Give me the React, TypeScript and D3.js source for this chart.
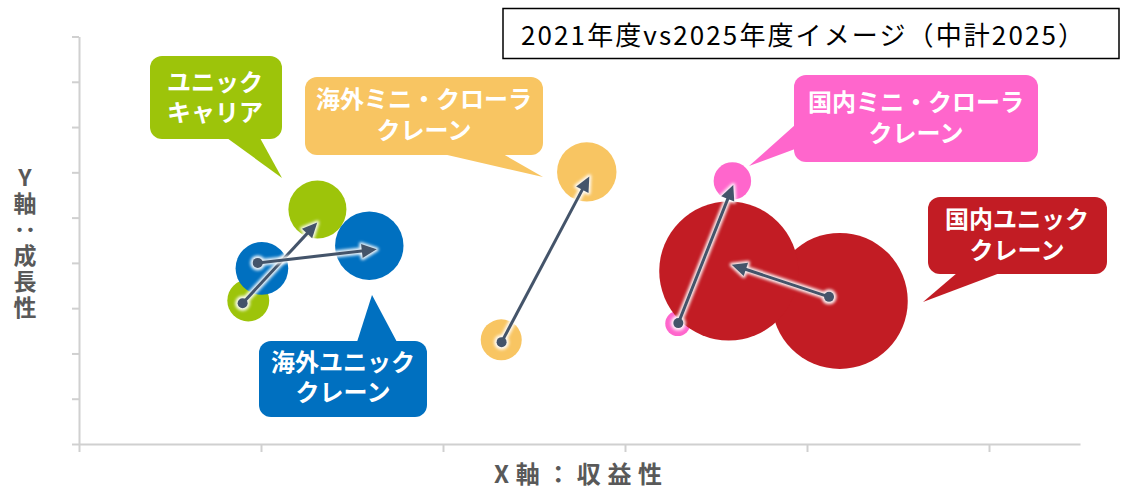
import { useEffect, useRef } from 'react';
import * as d3 from 'd3';

// segments, drawn back to front
const segments = ['ユニックキャリア', '海外ユニッククレーン', '海外ミニ・クローラクレーン', '国内ミニ・クローラクレーン', '国内ユニッククレーン'];
const colors = ['#9DC40A', '#0070C0', '#F8C562', '#FF66CC', '#C21C24'];

// 2021 actual (x: profitability, y: growth, size: scale)
const x2021 = [0.93, 1.005, 2.32, 3.29, 4.18];
const y2021 = [3.17, 3.88, 2.3, 2.66, 3.16];
const size2021 = [9.5, 15, 9.1, 3.4, 100];

// 2025 plan
const x2025 = [1.31, 1.595, 2.79, 3.59, 3.57];
const y2025 = [5.18, 4.38, 6.01, 5.81, 3.82];
const size2025 = [18.2, 25.3, 19.1, 7.6, 104.5];

// arrows as drawn
const arrowFromX = [0.899, 0.982, 2.322, 3.293, 4.121];
const arrowFromY = [3.11, 4.0, 2.25, 2.67, 3.25];
const arrowToX = [1.309, 1.636, 2.804, 3.595, 3.586];
const arrowToY = [4.89, 4.3, 5.91, 5.72, 3.96];

const labelLines = [
  ['ユニック', 'キャリア'],
  ['海外ユニック', 'クレーン'],
  ['海外ミニ・クローラ', 'クレーン'],
  ['国内ミニ・クローラ', 'クレーン'],
  ['国内ユニック', 'クレーン'],
];

const xTicks = [0, 1, 2, 3, 4, 5];
const yTicks = [0, 1, 2, 3, 4, 5, 6, 7, 8, 9];

const title = '2021年度vs2025年度イメージ（中計2025）';
const xTitle = 'X軸：収益性';
const yTitle = 'Y軸：成長性';

// callout layout (pixels)
const callouts = [
  { x: 150, y: 56, w: 132, h: 83, tail: [[227, 138], [260, 138], [282, 178]], cx: 215, ly: [82, 112] },
  { x: 259, y: 341, w: 168, h: 76, tail: [[357, 342], [397, 342], [372, 295]], cx: 343, ly: [362, 392] },
  { x: 305, y: 77, w: 238, h: 78, tail: [[443, 154], [503, 154], [543, 177]], cx: 424, ly: [99, 130] },
  { x: 794, y: 75, w: 244, h: 87, tail: [[795, 125], [795, 149], [749, 166]], cx: 916, ly: [102, 133] },
  { x: 928, y: 197, w: 179, h: 77, tail: [[957, 273], [1000, 273], [923, 302]], cx: 1017, ly: [219, 250] },
];

const FONT = "'Noto Sans CJK JP', 'Noto Sans', sans-serif";

export default function App() {
  const svgRef = useRef(null);

  useEffect(() => {
    const w = 1122;
    const h = 489;
    const svg = d3.select(svgRef.current).attr('width', w).attr('height', h);
    svg.selectAll('*').remove();

    const xScale = d3.scaleLinear().domain([0, 5.5]).range([79, 1080]);
    const yScale = d3.scaleLinear().domain([0, 9]).range([444, 36.5]);
    const rScale = d3.scaleSqrt().domain([0, 100]).range([0, 68]);

    const defs = svg.append('defs');
    defs.append('filter').attr('id', 'glow').attr('x', '-50%').attr('y', '-50%').attr('width', '200%').attr('height', '200%')
      .append('feGaussianBlur').attr('stdDeviation', 1.6);

    // axes
    const gy = svg.append('g').attr('transform', 'translate(79,0)')
      .call(d3.axisLeft(yScale).tickValues(yTicks).tickSize(7).tickSizeOuter(0).tickFormat(() => ''));
    const gx = svg.append('g').attr('transform', 'translate(0,444)')
      .call(d3.axisBottom(xScale).tickValues(xTicks).tickSize(8).tickSizeOuter(0).tickFormat(() => ''));
    [gx, gy].forEach(g => {
      g.select('.domain').attr('stroke', '#D0D0D0').attr('stroke-width', 2);
      g.selectAll('.tick line').attr('stroke', '#D0D0D0').attr('stroke-width', 2);
    });

    // axis titles
    svg.append('text')
      .attr('x', 578).attr('y', 472)
      .attr('text-anchor', 'middle').attr('dominant-baseline', 'central')
      .attr('font-family', FONT).attr('font-weight', 'bold').attr('font-size', 24)
      .attr('fill', '#595959')
      .attr('textLength', 168).attr('lengthAdjust', 'spacing')
      .text(xTitle);

    svg.append('text')
      .attr('x', 25).attr('y', 166)
      .style('writing-mode', 'vertical-rl')
      .style('text-orientation', 'upright')
      .attr('font-family', FONT).attr('font-weight', 'bold').attr('font-size', 23)
      .attr('letter-spacing', 3)
      .attr('fill', '#595959')
      .text(yTitle);

    // bubbles
    segments.forEach((s, i) => {
      svg.append('circle')
        .attr('cx', xScale(x2021[i])).attr('cy', yScale(y2021[i])).attr('r', rScale(size2021[i]))
        .attr('fill', colors[i]);
      svg.append('circle')
        .attr('cx', xScale(x2025[i])).attr('cy', yScale(y2025[i])).attr('r', rScale(size2025[i]))
        .attr('fill', colors[i]);
    });

    // callouts
    callouts.forEach((c, i) => {
      const g = svg.append('g');
      g.append('polygon').attr('points', c.tail.map(p => p.join(',')).join(' ')).attr('fill', colors[i]);
      g.append('rect').attr('x', c.x).attr('y', c.y).attr('width', c.w).attr('height', c.h)
        .attr('rx', 12).attr('fill', colors[i]);
      const t = g.append('text')
        .attr('text-anchor', 'middle')
        .attr('font-family', FONT).attr('font-weight', 'bold').attr('font-size', 24)
        .attr('fill', '#FFFFFF');
      labelLines[i].forEach((line, j) => {
        t.append('tspan')
          .attr('x', c.cx).attr('y', c.ly[j] + 8.5)
          .text(line);
      });
    });

    // arrows
    const arrowColor = '#44546A';
    segments.forEach((s, i) => {
      const x0 = xScale(arrowFromX[i]);
      const y0 = yScale(arrowFromY[i]);
      const x1 = xScale(arrowToX[i]);
      const y1 = yScale(arrowToY[i]);
      const len = Math.hypot(x1 - x0, y1 - y0);
      const ux = (x1 - x0) / len;
      const uy = (y1 - y0) / len;
      const hl = 15;
      const hw = 7;
      const bx = x1 - ux * hl;
      const by = y1 - uy * hl;
      const head = [[x1, y1], [bx - uy * hw, by + ux * hw], [bx + uy * hw, by - ux * hw]];
      const headPts = head.map(p => p.join(',')).join(' ');
      const lx = x1 - ux * (hl - 2);
      const ly = y1 - uy * (hl - 2);

      const glow = svg.append('g').attr('filter', 'url(#glow)').attr('opacity', 0.95);
      glow.append('line').attr('x1', x0).attr('y1', y0).attr('x2', lx).attr('y2', ly)
        .attr('stroke', '#FFFFFF').attr('stroke-width', 7).attr('stroke-linecap', 'round');
      glow.append('circle').attr('cx', x0).attr('cy', y0).attr('r', 7.5).attr('fill', '#FFFFFF');
      glow.append('polygon').attr('points', headPts).attr('fill', '#FFFFFF')
        .attr('stroke', '#FFFFFF').attr('stroke-width', 4).attr('stroke-linejoin', 'round');

      svg.append('line').attr('x1', x0).attr('y1', y0).attr('x2', lx).attr('y2', ly)
        .attr('stroke', arrowColor).attr('stroke-width', 3);
      svg.append('circle').attr('cx', x0).attr('cy', y0).attr('r', 5).attr('fill', arrowColor);
      svg.append('polygon').attr('points', headPts).attr('fill', arrowColor);
    });

    // title box
    svg.append('rect').attr('x', 503).attr('y', 8.5).attr('width', 616).attr('height', 50)
      .attr('fill', '#FFFFFF').attr('stroke', '#000000').attr('stroke-width', 1.5);
    svg.append('text')
      .attr('x', 521).attr('y', 33)
      .attr('dominant-baseline', 'central')
      .attr('font-family', FONT).attr('font-size', 26)
      .attr('fill', '#000000')
      .attr('textLength', 563).attr('lengthAdjust', 'spacing')
      .text(title);
  }, []);

  return (
    <div style={{ position: 'absolute', left: 0, top: 0 }}>
      <svg ref={svgRef} style={{ display: 'block' }}></svg>
    </div>
  );
}
